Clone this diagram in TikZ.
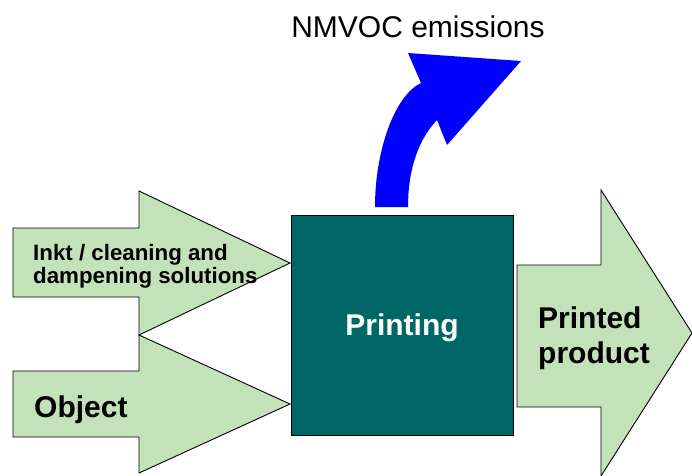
\documentclass[tikz,border=0pt]{standalone}
\usepackage{fontspec}
\setmainfont{Liberation Sans}
\usetikzlibrary{positioning}
\definecolor{lightgreen}{RGB}{196,226,186}
\definecolor{darkteal}{RGB}{0,102,102}
\definecolor{emissionblue}{RGB}{0,0,255}

\begin{document}
\begin{tikzpicture}[x=1pt,y=-1pt,
    flowarrow/.style={draw=black,fill=lightgreen,line width=0.9pt,line join=miter},
    boldlabel/.style={inner sep=0pt,font=\bfseries\fontsize{30}{35}\selectfont}]
    \useasboundingbox (0,0) rectangle (692,475);

    % Inputs
    \draw[flowarrow] (13,228) -- (139,228) -- (139,191) -- (290,263) -- (139,335) -- (139,297) -- (13,297) -- cycle;
    \draw[flowarrow] (13,371) -- (139,371) -- (139,335) -- (290,404) -- (139,473) -- (139,437) -- (13,437) -- cycle;

    % Process
    \draw[fill=darkteal,line width=0.9pt] (291,215) rectangle (513,435);

    % Output
    \draw[flowarrow] (517,265) -- (601,265) -- (601,190) -- (692,333) -- (601,476) -- (601,407) -- (517,407) -- cycle;

    % Emissions
    \fill[emissionblue] (375,207) -- (408,207) .. controls (408,170) and (418,140) .. (437,120)
        -- (447,145) -- (521,61) -- (408,53) -- (421,83)
        .. controls (395,95) and (375,150) .. (375,207) -- cycle;

    % Labels
    \node[inner sep=0pt,anchor=base,font=\fontsize{30}{36}\selectfont] (emis) at (418,37) {NMVOC emissions};
    \node[inner sep=0pt,anchor=north west,align=left,font=\bfseries\fontsize{22.3}{23}\selectfont] (ink) at (33,244) {Inkt / cleaning and\\dampening solutions};
    \node[boldlabel,anchor=base west] (obj) at (34,417) {Object};
    \node[boldlabel,anchor=base,text=white] (print) at (402,335) {Printing};
    \node[boldlabel,anchor=north west,align=left] (prod) at (538,307) {Printed\\product};
\end{tikzpicture}
\end{document}
